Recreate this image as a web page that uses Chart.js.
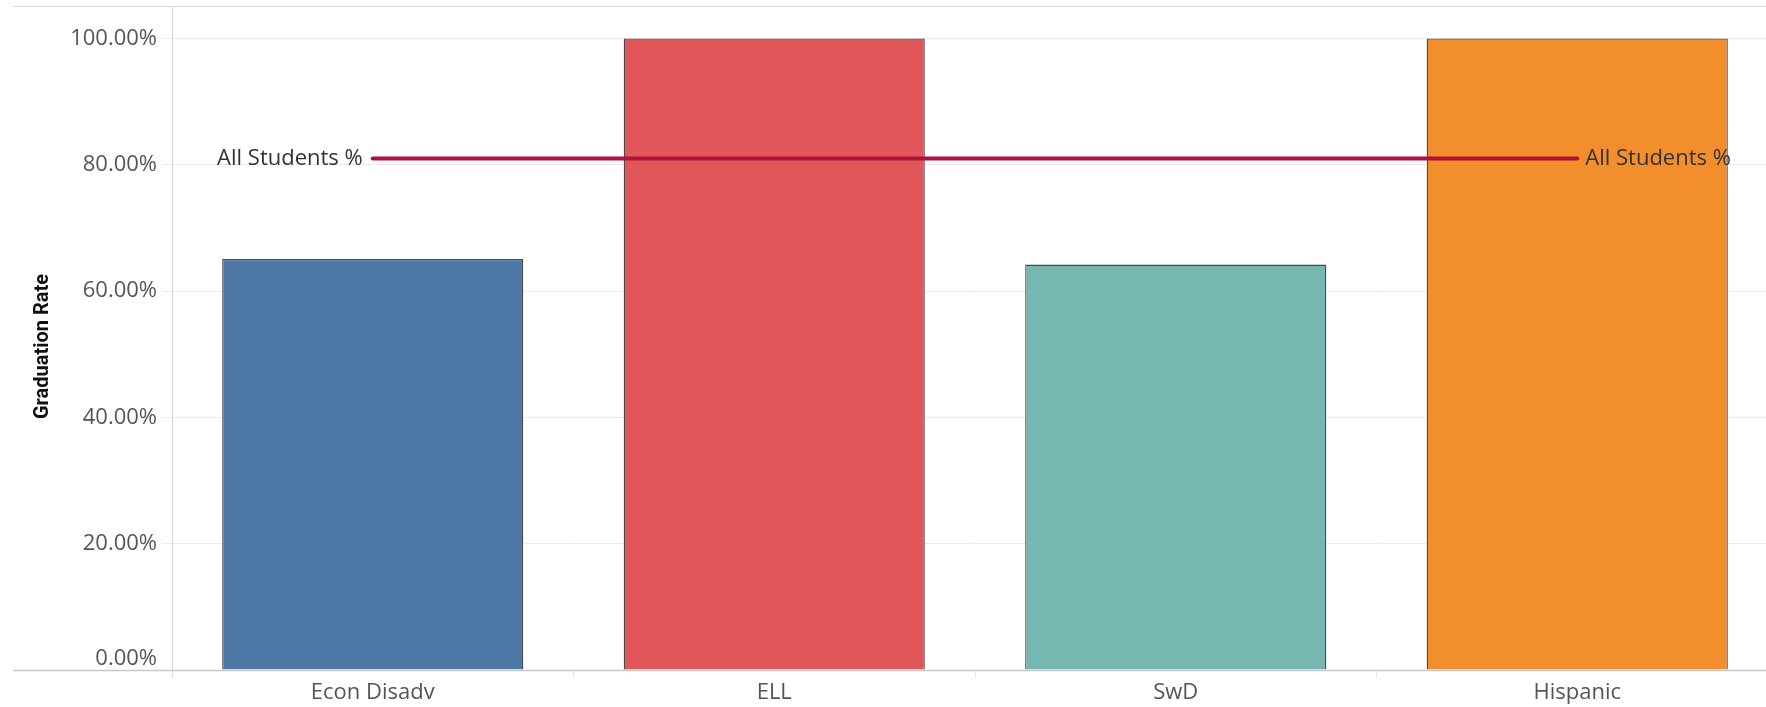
<!DOCTYPE html>
<html>
<head>
<meta charset="utf-8">
<script src="https://cdn.jsdelivr.net/npm/chart.js@4.4.1/dist/chart.umd.min.js"></script>
<style>
html, body { margin: 0; padding: 0; background: #fff; overflow: hidden; }
#wrap { width: 1778px; height: 707px; position: relative; }
</style>
</head>
<body>
<div id="wrap"><canvas id="chart"></canvas></div>
<script>
/* global Chart */
const categories = ['Econ Disadv', 'ELL', 'SwD', 'Hispanic'];
const gradRates = [65.1, 100, 64.2, 100];
const allStudentsRate = 81.0;
const allStudentsLabel = 'All Students %';
const yTitle = 'Graduation Rate';
const yTicks = [0, 20, 40, 60, 80, 100];
const barColors = ['#4e79a7', '#e15759', '#76b7b2', '#f28e2b'];

const tickFont = { family: 'Open Sans', size: 22 };
const ctx = document.getElementById('chart').getContext('2d');

// frame lines, y labels, axis title and the reference line labels
const tableauBits = {
    id: 'tableauBits',
    beforeDatasetsDraw(chart) {
        const c = chart.ctx;
        const area = chart.chartArea;
        c.save();
        c.strokeStyle = '#d9d9d9';
        c.lineWidth = 1;
        c.beginPath();
        c.moveTo(13, area.top - 0.5);
        c.lineTo(chart.width, area.top - 0.5);
        c.stroke();
        c.restore();
    },
    afterDatasetsDraw(chart) {
        const c = chart.ctx;
        const area = chart.chartArea;
        c.save();
        c.strokeStyle = '#c8c8c8';
        c.lineWidth = 1.5;
        c.beginPath();
        c.moveTo(13, area.bottom + 0.5);
        c.lineTo(chart.width, area.bottom + 0.5);
        c.stroke();
        c.restore();
    },
    afterDraw(chart) {
        const c = chart.ctx;
        const yScale = chart.scales.y;
        c.save();
        c.font = tickFont.size + 'px ' + tickFont.family;
        c.fillStyle = '#555';
        c.textAlign = 'right';
        c.textBaseline = 'middle';
        yScale.ticks.forEach(t => {
            let y = yScale.getPixelForValue(t.value);
            if (t.value === 0) y -= 11;
            c.fillText(t.value.toFixed(2) + '%', 157, y);
        });
        const pts = chart.getDatasetMeta(0).data;
        const first = pts[0];
        const last = pts[pts.length - 1];
        c.fillStyle = '#333';
        c.textAlign = 'right';
        c.fillText(allStudentsLabel, first.x - 10, first.y);
        c.textAlign = 'left';
        c.fillText(allStudentsLabel, last.x + 8, last.y);
        // y axis title
        c.translate(43, (yScale.top + yScale.bottom) / 2 + 8);
        c.rotate(-Math.PI / 2);
        c.font = 'bold 20px Roboto';
        c.fillStyle = '#111';
        c.textAlign = 'center';
        c.fillText(yTitle, 0, 0);
        c.restore();
    }
};

new Chart(ctx, {
    type: 'bar',
    data: {
        labels: categories,
        datasets: [{
            type: 'line',
            label: allStudentsLabel,
            data: categories.map(() => allStudentsRate),
            borderColor: '#b0123b',
            borderWidth: 4,
            borderCapStyle: 'round',
            pointRadius: 0,
            fill: false
        }, {
            label: yTitle,
            data: gradRates,
            backgroundColor: barColors,
            borderColor: '#4a4a4a',
            borderWidth: 1.3,
            borderSkipped: 'bottom',
            categoryPercentage: 1,
            barPercentage: 0.75
        }]
    },
    options: {
        responsive: true,
        maintainAspectRatio: false,
        animation: false,
        layout: { padding: { top: 7, left: 0, right: 0, bottom: 0 } },
        plugins: {
            legend: { display: false },
            tooltip: { enabled: false }
        },
        scales: {
            x: {
                grid: {
                    offset: true,
                    drawOnChartArea: false,
                    drawTicks: true,
                    tickLength: 8,
                    color: '#e4e4e4'
                },
                border: { display: false },
                ticks: {
                    color: '#555',
                    font: tickFont,
                    padding: 2,
                    maxRotation: 0
                },
                afterFit(scale) { scale.height = 37; }
            },
            y: {
                min: 0,
                max: 105,
                afterBuildTicks(scale) {
                    scale.ticks = yTicks.map(v => ({ value: v }));
                },
                afterFit(scale) { scale.width = 172; },
                grid: {
                    color: '#ececec',
                    tickLength: 10
                },
                border: { color: '#d6d6d6', width: 1 },
                ticks: { display: false },
                title: { display: false }
            }
        }
    },
    plugins: [tableauBits]
});
</script>
</body>
</html>
